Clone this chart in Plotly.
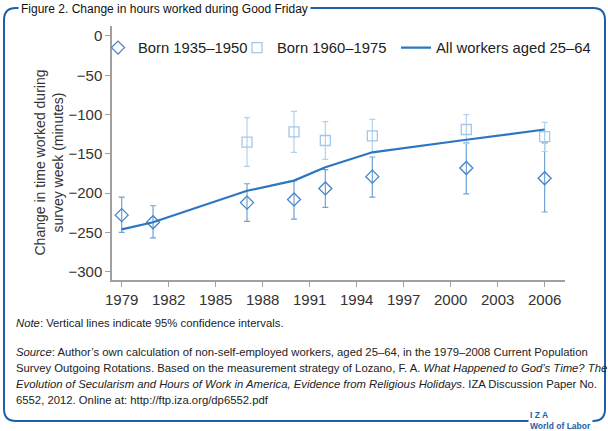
import plotly.graph_objects as go

# ---- data ----
years_old = [1979, 1981, 1987, 1990, 1992, 1995, 2001, 2006]
old_vals = [-228, -237, -212, -208, -194, -179, -168, -181]
old_hi = [-205, -216, -188, -184, -170, -154, -136, -136]
old_lo = [-250, -257, -236, -233, -218, -205, -201, -224]

years_young = [1987, 1990, 1992, 1995, 2001, 2006]
young_vals = [-135, -122, -133, -127, -119, -128]
young_hi = [-104, -96, -109, -106, -100, -110]
young_lo = [-166, -148, -157, -148, -137, -147]

years_all = [1979, 1981, 1987, 1990, 1992, 1995, 2001, 2006]
all_vals = [-246, -237, -197, -184, -167, -148, -132, -119]

x_ticks = [1979, 1982, 1985, 1988, 1991, 1994, 1997, 2000, 2003, 2006]
y_ticks = [0, -50, -100, -150, -200, -250, -300]

names = ["Born 1935\u20131950", "Born 1960\u20131975", "All workers aged 25\u201364"]

# ---- layout geometry ----
W, H = 608, 431
L, R, T, B = 112, 43, 26, 151
PW, PH = W - L - R, H - T - B

def px(x):
    return (x - L) / PW

def py(y):
    return (H - B - y) / PH

TEXT_FONT = "Liberation Sans"
AXIS_FONT = "Liberation Sans"
BLUE = "#1f5ea8"

fig = go.Figure()

fig.add_trace(go.Scatter(
    x=years_old, y=old_vals, mode="markers", name=names[0], legend="legend",
    marker=dict(symbol="diamond-open", size=10, color="#4682c6",
                line=dict(width=1.3, color="#4682c6")),
    error_y=dict(type="data", symmetric=False,
                 array=[h - v for h, v in zip(old_hi, old_vals)],
                 arrayminus=[v - l for l, v in zip(old_lo, old_vals)],
                 color="#6ea3d8", thickness=1.2, width=3),
))
fig.add_trace(go.Scatter(
    x=years_young, y=young_vals, mode="markers", name=names[1], legend="legend2",
    marker=dict(symbol="square-open", size=10, color="#a4c6e9",
                line=dict(width=1.3, color="#a4c6e9")),
    error_y=dict(type="data", symmetric=False,
                 array=[h - v for h, v in zip(young_hi, young_vals)],
                 arrayminus=[v - l for l, v in zip(young_lo, young_vals)],
                 color="#b4d1ee", thickness=1.2, width=3),
))
fig.add_trace(go.Scatter(
    x=years_all, y=all_vals, mode="lines", name=names[2], legend="legend3",
    line=dict(color="#2b76c0", width=2.2),
))

# ---- frame ----
x0, x1, y0, y1, r = 4, 605, 8, 421, 12
path = (
    f"M {px(x0 + r)},{py(y0)} L {px(x1 - r)},{py(y0)} "
    f"Q {px(x1)},{py(y0)} {px(x1)},{py(y0 + r)} "
    f"L {px(x1)},{py(y1 - r)} Q {px(x1)},{py(y1)} {px(x1 - r)},{py(y1)} "
    f"L {px(x0 + r)},{py(y1)} Q {px(x0)},{py(y1)} {px(x0)},{py(y1 - r)} "
    f"L {px(x0)},{py(y0 + r)} Q {px(x0)},{py(y0)} {px(x0 + r)},{py(y0)} Z"
)
fig.add_shape(type="path", path=path, xref="paper", yref="paper",
              line=dict(color=BLUE, width=2), layer="below")

def note(xp, yp, text, size=11.3, color="#222", family=TEXT_FONT, **kw):
    fig.add_annotation(x=px(xp), y=py(yp), xref="paper", yref="paper", text=text,
                       showarrow=False, xanchor=kw.pop("xanchor", "left"), yanchor="middle",
                       font=dict(family=family, size=size, color=color), **kw)

note(18, 9, "Figure 2. Change in hours worked during Good Friday", size=12,
     color="#111", bgcolor="white", borderpad=2)
note(14, 323, "<i>Note</i>: Vertical lines indicate 95% confidence intervals.")
note(14, 352, "<i>Source</i>: Author\u2019s own calculation of non-self-employed workers, aged 25\u201364, in the 1979\u20132008 Current Population")
note(14, 368, "Survey Outgoing Rotations. Based on the measurement strategy of Lozano, F. A. <i>What Happened to God\u2019s Time? The</i>")
note(14, 384, "<i>Evolution of Secularism and Hours of Work in America, Evidence from Religious Holidays</i>. IZA Discussion Paper No.")
note(14, 400, "6552, 2012. Online at: http://ftp.iza.org/dp6552.pdf")
note(528, 420, "<b>I Z A</b><br><b>World of Labor</b>", size=8.5, color=BLUE,
     bgcolor="white", borderpad=1, align="left")
# y-axis title as rotated text
note(48.5, 163, "Change in time worked during<br>survey week (minutes)", size=14,
     color="#333", family=AXIS_FONT, textangle=-90, xanchor="center")

leg_common = dict(orientation="h", xref="paper", yref="paper", yanchor="middle",
                  xanchor="left", font=dict(family=AXIS_FONT, size=14.8, color="#222"),
                  bgcolor="rgba(0,0,0,0)", borderwidth=0)

fig.update_layout(
    width=W, height=H,
    margin=dict(l=L, r=R, t=T, b=B),
    paper_bgcolor="white", plot_bgcolor="white",
    showlegend=True,
    legend=dict(x=px(138 - 40), y=py(48), **leg_common),
    legend2=dict(x=px(277 - 40), y=py(48), **leg_common),
    legend3=dict(x=px(437 - 41), y=py(48), **leg_common),
    xaxis=dict(range=[1978.38, 2007.3], tickvals=x_ticks, ticktext=[str(v) for v in x_ticks],
               showgrid=False, zeroline=False, showline=True, linecolor="#a0a0a0", linewidth=1.5,
               ticks="outside", ticklen=5, tickcolor="#a0a0a0",
               tickfont=dict(family=AXIS_FONT, size=15, color="#333")),
    yaxis=dict(range=[-310.5, 12.7], tickvals=y_ticks,
               showgrid=False, zeroline=False, showline=True, linecolor="#a0a0a0", linewidth=1.5,
               ticks="outside", ticklen=5, tickcolor="#a0a0a0",
               tickfont=dict(family=AXIS_FONT, size=15, color="#333")),
)

fig.write_html("out.html")
